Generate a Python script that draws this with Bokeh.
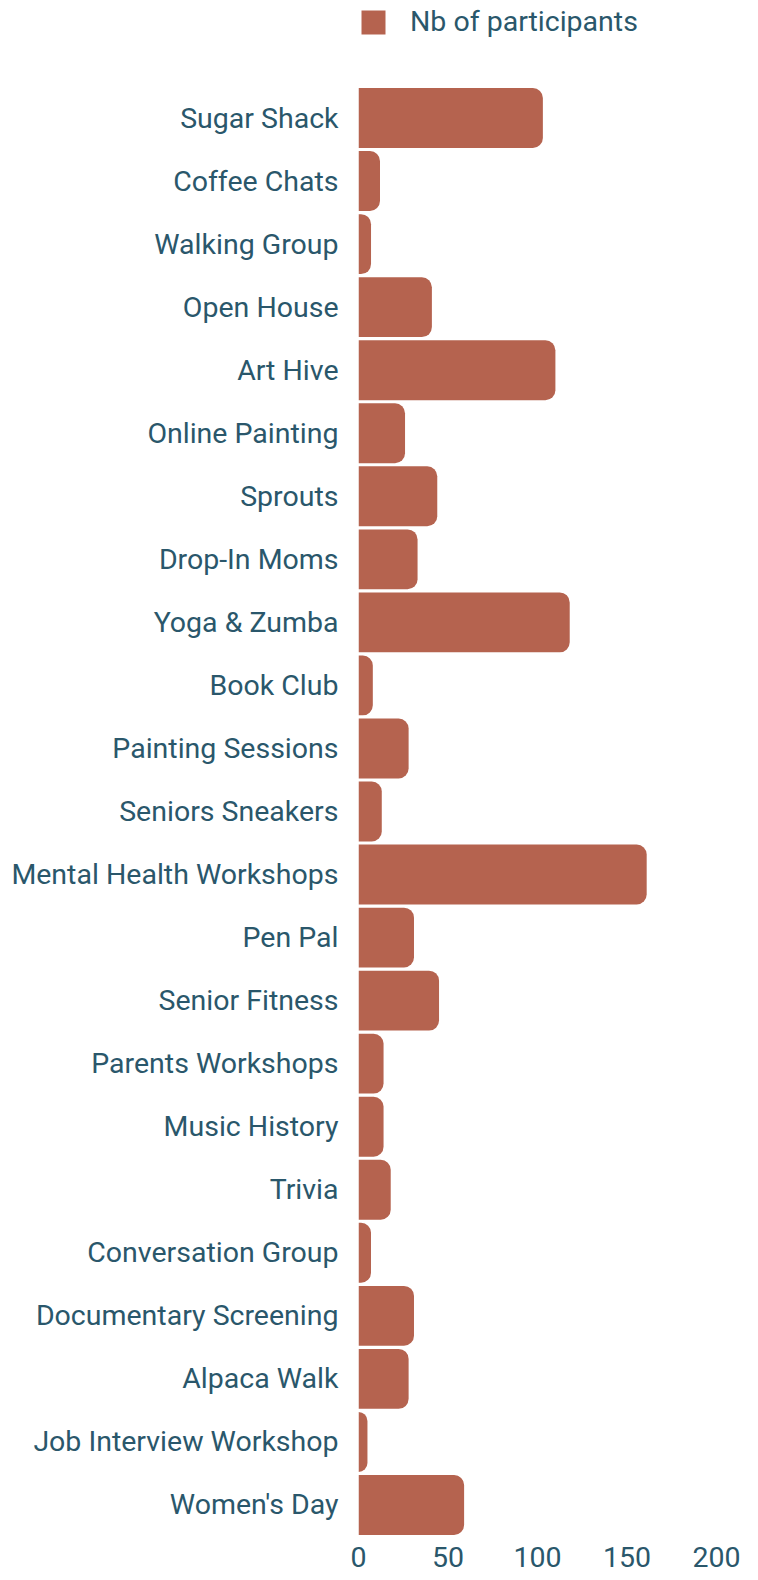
from bokeh.plotting import figure
from bokeh.models import Legend, LegendItem, Range1d, FixedTicker, ColumnDataSource
from bokeh.embed import file_html
from bokeh.resources import INLINE

activities = [
    "Sugar Shack", "Coffee Chats", "Walking Group", "Open House", "Art Hive",
    "Online Painting", "Sprouts", "Drop-In Moms", "Yoga & Zumba", "Book Club",
    "Painting Sessions", "Seniors Sneakers", "Mental Health Workshops", "Pen Pal",
    "Senior Fitness", "Parents Workshops", "Music History", "Trivia",
    "Conversation Group", "Documentary Screening", "Alpaca Walk",
    "Job Interview Workshop", "Women's Day",
]
participants = [103, 12, 7, 41, 110, 26, 44, 33, 118, 8, 28, 13, 161, 31, 45,
                14, 14, 18, 7, 31, 28, 5, 59]
x_ticks = [0, 50, 100, 150, 200]
series_name = "Nb of participants"

BAR = "#b5634f"
TEXT = "#2a576b"
FONT = "Roboto"
FSIZE = "28.5px"

W, H = 758, 1580
TOP, BOTTOM = 5, 44          # borders in px
BAND_TOP = 86                # pixel where the first category band starts
n = len(activities)
frame_h = H - TOP - BOTTOM
unit = (frame_h - (BAND_TOP - TOP)) / n
extra = (BAND_TOP - TOP) / unit

pos = list(range(n))
src = ColumnDataSource(dict(pos=pos, participants=participants))

p = figure(width=W, height=H,
           y_range=Range1d(n - 0.5, -0.5 - extra),
           x_range=Range1d(0, 200),
           output_backend="svg", toolbar_location=None,
           min_border_left=358, min_border_right=42,
           min_border_top=TOP, min_border_bottom=BOTTOM)

r = p.hbar(y="pos", left=0, right="participants", height=0.95, source=src,
           fill_color=BAR, line_color=None, border_radius=(0, 10, 10, 0))

p.xaxis.ticker = x_ticks
p.yaxis.ticker = FixedTicker(ticks=pos)
p.yaxis.major_label_overrides = {i: a for i, a in zip(pos, activities)}
for ax in (p.xaxis, p.yaxis):
    ax.axis_line_color = None
    ax.major_tick_line_color = None
    ax.minor_tick_line_color = None
    ax.major_tick_out = 0
    ax.major_tick_in = 0
    ax.major_label_text_font = FONT
    ax.major_label_text_font_size = FSIZE
    ax.major_label_text_color = TEXT
p.xaxis.major_label_standoff = 10
p.yaxis.major_label_standoff = 20

p.grid.visible = False
p.outline_line_color = None

legend = Legend(items=[LegendItem(label=series_name, renderers=[r])],
                location="top_left", glyph_width=30, glyph_height=30,
                label_standoff=22, padding=2, margin=0,
                border_line_color=None, background_fill_alpha=0,
                label_text_font=FONT, label_text_font_size=FSIZE,
                label_text_color=TEXT)
p.add_layout(legend)

open("out.html", "w").write(file_html(p, INLINE))
